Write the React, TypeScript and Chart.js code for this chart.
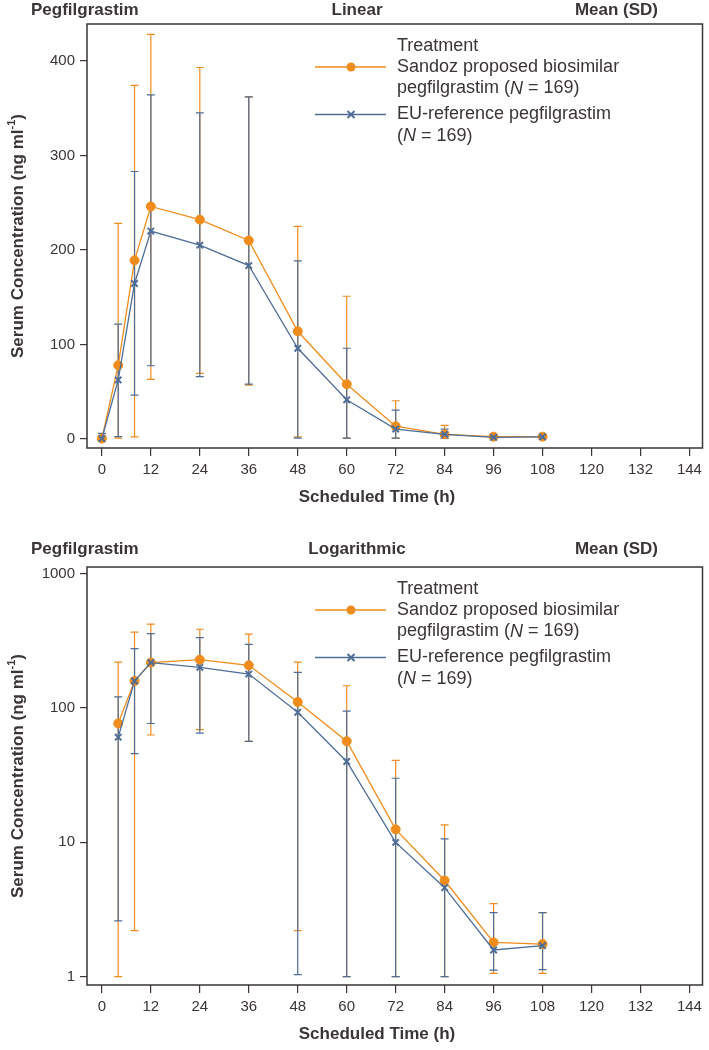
import React, { useEffect, useRef } from 'react';
import { Chart, registerables } from 'chart.js';

Chart.register(...registerables);

// ---------- data ----------
const hoursLinear = [0, 4, 8, 12, 24, 36, 48, 60, 72, 84, 96, 108];
const sandozMeanLin = [0.5, 78, 189, 246, 232, 210, 114, 58, 13.5, 5, 2.5, 2.5];
const sandozUpperLin = [0.5, 228, 374, 428, 393, 362, 225, 151, 40.5, 14.5, 3.5, 3.2];
const sandozLowerLin = [0.5, 1.0, 2.2, 63, 69.5, 57, 2.2, 1.0, 1.0, 1.0, 1.1, 1.1];
const euMeanLin = [0.5, 62.5, 164.5, 220, 205, 183.5, 96, 41.5, 10.5, 5, 1.7, 2.2];
const euUpperLin = [6, 121.5, 283, 364, 345, 362, 188.5, 96, 30.5, 10.5, 3, 3];
const euLowerLin = [0, 2.6, 46.5, 77.5, 66, 58, 1.0, 1.0, 1.0, 1.0, 1.1, 1.1];

const hoursLog = [4, 8, 12, 24, 36, 48, 60, 72, 84, 96, 108];
const sandozMeanLog = [76.7, 159, 218, 229, 208, 111, 56.6, 12.5, 5.2, 1.8, 1.75];
const sandozUpperLog = [220, 367, 421, 386, 355, 220, 146.5, 40.8, 13.5, 3.5, 3.0];
const sandozLowerLog = [1.0, 2.2, 63, 69, 56.4, 2.2, 1.0, 1.0, 1.0, 1.06, 1.06];
const euMeanLog = [60.7, 159, 218, 201, 179, 93, 40, 10, 4.6, 1.58, 1.7];
const euUpperLog = [121, 277, 358, 334, 298, 184.5, 95, 30, 10.6, 3.0, 3.0];
const euLowerLog = [2.6, 45.8, 76.7, 65, 56.4, 1.035, 1.0, 1.0, 1.0, 1.12, 1.13];

const xTickValues = [0, 12, 24, 36, 48, 60, 72, 84, 96, 108, 120, 132, 144];
const linTickValues = [0, 100, 200, 300, 400];
const logTickValues = [1, 10, 100, 1000];

const seriesNames = ['Sandoz proposed biosimilar', 'EU-reference pegfilgrastim'];
const nLabel = '169';

// ---------- styles ----------
const ORANGE = '#F08C1C';
const BLUE = '#4E6E98';
const INK = '#3b3535';
const FONT = '"Liberation Sans", Arial, Helvetica, sans-serif';

type ErrSet = { t: number[]; upper: number[]; lower: number[]; color: string };

function drawRich(ctx: CanvasRenderingContext2D, parts: [string, boolean][], x: number, y: number, size: number) {
  let cx = x;
  for (const [txt, it] of parts) {
    ctx.font = `${it ? 'italic ' : ''}${size}px ${FONT}`;
    ctx.fillText(txt, cx, y);
    cx += ctx.measureText(txt).width;
  }
}

function makeDecor(cfg: { mode: string; errors: ErrSet[]; headerY: number }) {
  return {
    id: 'decor',
    beforeDatasetsDraw(chart: any) {
      const { ctx, scales } = chart;
      const x = scales.x;
      const y = scales.y;
      for (const e of cfg.errors) {
        ctx.save();
        ctx.strokeStyle = e.color;
        ctx.lineWidth = 1.2;
        e.t.forEach((t, i) => {
          const px = x.getPixelForValue(t);
          const yu = y.getPixelForValue(e.upper[i]);
          const yl = y.getPixelForValue(e.lower[i]);
          ctx.beginPath();
          ctx.moveTo(px, yu);
          ctx.lineTo(px, yl);
          ctx.moveTo(px - 4, yu);
          ctx.lineTo(px + 4, yu);
          ctx.moveTo(px - 4, yl);
          ctx.lineTo(px + 4, yl);
          ctx.stroke();
        });
        ctx.restore();
      }
    },
    afterDraw(chart: any) {
      const { ctx, chartArea: a } = chart;
      ctx.save();
      // frame
      ctx.strokeStyle = INK;
      ctx.lineWidth = 1.5;
      ctx.strokeRect(a.left, a.top, a.right - a.left, a.bottom - a.top);

      // headers
      ctx.fillStyle = INK;
      ctx.textBaseline = 'middle';
      ctx.font = `bold 17px ${FONT}`;
      ctx.textAlign = 'left';
      ctx.fillText('Pegfilgrastim', 31, cfg.headerY);
      ctx.textAlign = 'center';
      ctx.fillText(cfg.mode, 357, cfg.headerY);
      ctx.textAlign = 'right';
      ctx.fillText('Mean (SD)', 658, cfg.headerY);

      // x title
      ctx.textAlign = 'center';
      ctx.fillText('Scheduled Time (h)', 377, a.bottom + 49);

      // y title (rotated)
      const main = 'Serum Concentration (ng ml';
      const sup = '-1';
      const close = ')';
      ctx.font = `bold 17px ${FONT}`;
      const wMain = ctx.measureText(main).width;
      const wClose = ctx.measureText(close).width;
      ctx.font = `bold 11px ${FONT}`;
      const wSup = ctx.measureText(sup).width;
      const total = wMain + wSup + wClose;
      ctx.save();
      ctx.translate(18, (a.top + a.bottom) / 2);
      ctx.rotate(-Math.PI / 2);
      ctx.textAlign = 'left';
      ctx.font = `bold 17px ${FONT}`;
      ctx.fillText(main, -total / 2, 0);
      ctx.font = `bold 11px ${FONT}`;
      ctx.fillText(sup, -total / 2 + wMain, -6);
      ctx.font = `bold 17px ${FONT}`;
      ctx.fillText(close, -total / 2 + wMain + wSup, 0);
      ctx.restore();

      // legend
      const lx = 397;
      const t0 = a.top;
      ctx.textAlign = 'left';
      ctx.textBaseline = 'middle';
      ctx.fillStyle = INK;
      ctx.font = `18px ${FONT}`;
      ctx.fillText('Treatment', lx, t0 + 22.5);
      ctx.fillText(seriesNames[0], lx, t0 + 43.5);
      drawRich(ctx, [['pegfilgrastim (', false], ['N', true], [' = ' + nLabel + ')', false]], lx, t0 + 64.5, 18);
      ctx.fillText(seriesNames[1], lx, t0 + 90.5);
      drawRich(ctx, [['(', false], ['N', true], [' = ' + nLabel + ')', false]], lx, t0 + 112, 18);

      // legend symbols
      const y1 = t0 + 43;
      ctx.strokeStyle = ORANGE;
      ctx.lineWidth = 1.3;
      ctx.beginPath();
      ctx.moveTo(315, y1);
      ctx.lineTo(386, y1);
      ctx.stroke();
      ctx.fillStyle = ORANGE;
      ctx.beginPath();
      ctx.arc(351, y1, 4.5, 0, Math.PI * 2);
      ctx.fill();

      const y2 = t0 + 90.5;
      ctx.strokeStyle = BLUE;
      ctx.beginPath();
      ctx.moveTo(315, y2);
      ctx.lineTo(386, y2);
      ctx.stroke();
      ctx.lineWidth = 2;
      ctx.beginPath();
      ctx.moveTo(351 - 3.5, y2 - 3.5);
      ctx.lineTo(351 + 3.5, y2 + 3.5);
      ctx.moveTo(351 - 3.5, y2 + 3.5);
      ctx.lineTo(351 + 3.5, y2 - 3.5);
      ctx.stroke();
      ctx.restore();
    },
  };
}

function buildConfig(opts: {
  log: boolean;
  hours: number[];
  sMean: number[];
  sUp: number[];
  sLo: number[];
  eMean: number[];
  eUp: number[];
  eLo: number[];
  padTop: number;
  xAxisH: number;
  headerY: number;
}) {
  const yTicks = opts.log ? logTickValues : linTickValues;
  return {
    type: 'line' as const,
    data: {
      datasets: [
        {
          label: seriesNames[0],
          data: opts.hours.map((t, i) => ({ x: t, y: opts.sMean[i] })),
          borderColor: ORANGE,
          backgroundColor: ORANGE,
          borderWidth: 1.3,
          pointStyle: 'circle',
          pointRadius: 4.5,
          pointBorderWidth: 1,
          order: 2,
        },
        {
          label: seriesNames[1],
          data: opts.hours.map((t, i) => ({ x: t, y: opts.eMean[i] })),
          borderColor: BLUE,
          backgroundColor: BLUE,
          borderWidth: 1.3,
          pointStyle: 'crossRot',
          pointRadius: 4.5,
          pointBorderWidth: 2,
          order: 1,
        },
      ],
    },
    options: {
      responsive: false,
      animation: false as const,
      layout: { padding: { top: opts.padTop, right: 3, left: 0, bottom: 0 } },
      plugins: { legend: { display: false }, tooltip: { enabled: false } },
      scales: {
        x: {
          type: 'linear' as const,
          min: -3.65,
          max: 147.2,
          afterBuildTicks: (s: any) => {
            s.ticks = xTickValues.map((v) => ({ value: v }));
          },
          afterFit: (s: any) => {
            s.height = opts.xAxisH;
            s.paddingLeft = 0;
            s.paddingRight = 0;
          },
          grid: { display: true, drawOnChartArea: false, drawTicks: true, tickLength: 8, color: INK, lineWidth: 1.2 },
          border: { display: false },
          ticks: {
            autoSkip: false,
            maxRotation: 0,
            padding: 5,
            color: INK,
            font: { family: FONT, size: 15 },
            callback: (v: any) => String(v),
          },
        },
        y: {
          type: (opts.log ? 'logarithmic' : 'linear') as any,
          min: opts.log ? 0.867 : -9.5,
          max: opts.log ? 1122 : 439,
          afterBuildTicks: (s: any) => {
            s.ticks = yTicks.map((v) => ({ value: v }));
          },
          afterFit: (s: any) => {
            s.width = 87;
            s.paddingTop = 0;
            s.paddingBottom = 0;
          },
          grid: { display: true, drawOnChartArea: false, drawTicks: true, tickLength: 7, color: INK, lineWidth: 1.2 },
          border: { display: false },
          ticks: {
            autoSkip: false,
            padding: 5,
            color: INK,
            font: { family: FONT, size: 15 },
            callback: (v: any) => String(v),
          },
        },
      },
    },
    plugins: [
      makeDecor({
        mode: opts.log ? 'Logarithmic' : 'Linear',
        headerY: opts.headerY,
        errors: [
          { t: opts.hours, upper: opts.sUp, lower: opts.sLo, color: ORANGE },
          { t: opts.hours, upper: opts.eUp, lower: opts.eLo, color: BLUE },
        ],
      }),
    ],
  };
}

export default function App() {
  const topRef = useRef<HTMLCanvasElement | null>(null);
  const botRef = useRef<HTMLCanvasElement | null>(null);

  useEffect(() => {
    if (!topRef.current || !botRef.current) return;
    const c1 = new Chart(
      topRef.current,
      buildConfig({
        log: false,
        hours: hoursLinear,
        sMean: sandozMeanLin,
        sUp: sandozUpperLin,
        sLo: sandozLowerLin,
        eMean: euMeanLin,
        eUp: euUpperLin,
        eLo: euLowerLin,
        padTop: 24,
        xAxisH: 72,
        headerY: 10,
      }) as any
    );
    const c2 = new Chart(
      botRef.current,
      buildConfig({
        log: true,
        hours: hoursLog,
        sMean: sandozMeanLog,
        sUp: sandozUpperLog,
        sLo: sandozLowerLog,
        eMean: euMeanLog,
        eUp: euUpperLog,
        eLo: euLowerLog,
        padTop: 47,
        xAxisH: 65,
        headerY: 29.5,
      }) as any
    );
    return () => {
      c1.destroy();
      c2.destroy();
    };
  }, []);

  return (
    <div style={{ position: 'absolute', left: 0, top: 0, width: 709, height: 1050, background: '#fff' }}>
      <canvas ref={topRef} width={709} height={520} style={{ position: 'absolute', left: 0, top: 0 }} />
      <canvas ref={botRef} width={709} height={530} style={{ position: 'absolute', left: 0, top: 520 }} />
    </div>
  );
}
